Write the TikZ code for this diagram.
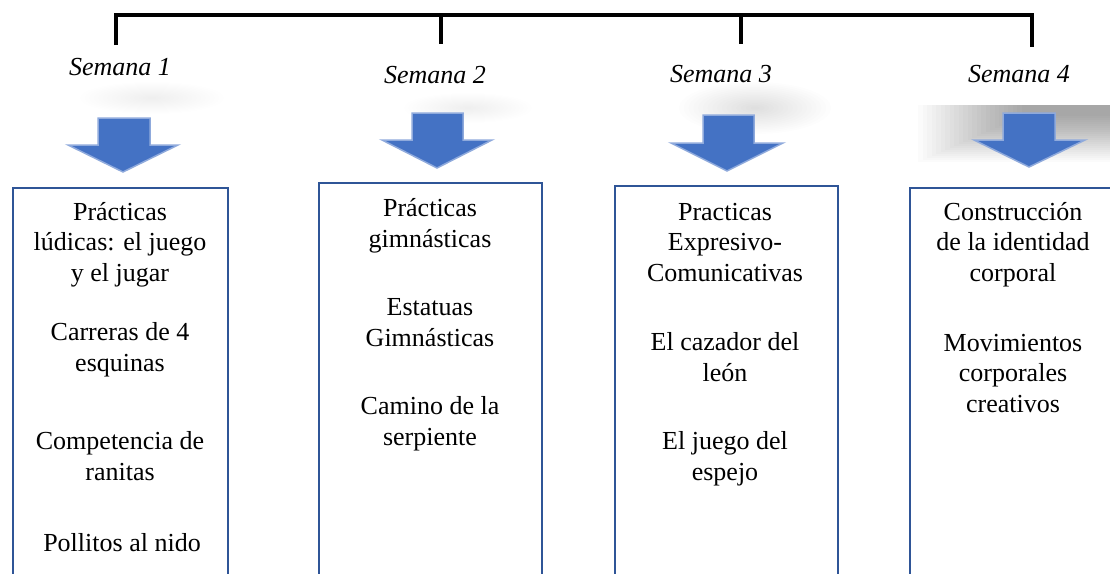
\documentclass[tikz,border=0pt]{standalone}
\usepackage{fontspec}
\setmainfont{Liberation Serif}
\definecolor{arrowfill}{HTML}{4472C4}
\definecolor{arrowline}{HTML}{8FAADC}
\definecolor{boxline}{HTML}{2F5597}
\tikzset{
  bracket/.style={line width=4pt, black, line join=miter},
  weekbox/.style={draw=boxline, line width=2pt, rectangle, anchor=north west, inner sep=0pt},
  txt/.style={font=\fontsize{26}{30.5}\selectfont, align=center, inner sep=0pt, anchor=base},
  week/.style={font=\fontsize{26}{30}\selectfont\itshape, inner sep=0pt, anchor=base},
  bigarrow/.style={fill=arrowfill, draw=arrowline, line width=1.5pt, line join=miter}
}
\newcommand{\softellipse}[5]{% cx cy rx ry opacity
  \foreach \i in {1,...,16}{
    \fill[black, opacity=#5] (#1,#2) ellipse ({#3*\i/16} and {#4*\i/16});
  }}
\newcommand{\blockdownarrow}[8]{% shaftL shaftR top headL headR headTop tipX tipY
  \draw[bigarrow] (#1,#3) -- (#2,#3) -- (#2,#6) -- (#5,#6) -- (#7,#8) -- (#4,#6) -- (#1,#6) -- cycle;}
\begin{document}
\begin{tikzpicture}[x=1pt, y=-1pt]
\useasboundingbox (0,0) rectangle (1110,573);
\clip (0,0) rectangle (1110,573);
\fill[white] (0,0) rectangle (1110,573);

% soft shadows behind the arrows
\softellipse{152}{98}{72}{16}{0.005}
\softellipse{468}{108}{64}{15}{0.005}
\softellipse{755}{108}{76}{26}{0.0075}
\foreach \i in {0,...,23}{
  \fill[black, opacity=0.015] ({918+\i*4.5},105) rectangle (1110,{162-\i*2});
}

% bracket
\coordinate (h1) at (116,15);
\coordinate (h2) at (441,15);
\coordinate (h3) at (741,15);
\coordinate (h4) at (1032,15);
\coordinate (k1) at (116,45);
\coordinate (k2) at (441,44);
\coordinate (k3) at (741,44);
\coordinate (k4) at (1032,47);
\draw[bracket] (k1) -- (h1) -- (h4) -- (k4);
\draw[bracket] (h2) -- (k2);
\draw[bracket] (h3) -- (k3);

% week labels
\node[week] (s1) at (120,75) {Semana 1};
\node[week] (s2) at (435,83) {Semana 2};
\node[week] (s3) at (721,82) {Semana 3};
\node[week] (s4) at (1019,82) {Semana 4};

% arrows
\blockdownarrow{98}{150}{118}{68}{178}{145}{123}{172}
\blockdownarrow{412}{463}{113}{382}{492}{140}{437}{168}
\blockdownarrow{703}{754}{115}{671}{783}{143}{727}{171}
\blockdownarrow{1003}{1055}{113}{974}{1085}{140}{1029}{167}

% boxes (open at the bottom edge of the picture)
\node[weekbox, minimum width=215pt, minimum height=420pt] (b1) at (12,187) {};
\node[weekbox, minimum width=223pt, minimum height=420pt] (b2) at (318,182) {};
\node[weekbox, minimum width=223pt, minimum height=420pt] (b3) at (614,185) {};
\node[weekbox, minimum width=222pt, minimum height=420pt] (b4) at (909,187) {};

% box texts (anchor = baseline of the last line)
\node[txt] (t11) at (120,281) {Prácticas\\lúdicas: el juego\\y el jugar};
\node[txt] (t12) at (120,371) {Carreras de 4\\esquinas};
\node[txt] (t13) at (120,480) {Competencia de\\ranitas};
\node[txt] (t14) at (122,551) {Pollitos al nido};

\node[txt] (t21) at (430,247) {Prácticas\\gimnásticas};
\node[txt] (t22) at (430,346) {Estatuas\\Gimnásticas};
\node[txt] (t23) at (430,445) {Camino de la\\serpiente};

\node[txt] (t31) at (725,281) {Practicas\\Expresivo-\\Comunicativas};
\node[txt] (t32) at (725,381) {El cazador del\\león};
\node[txt] (t33) at (725,480) {El juego del\\espejo};

\node[txt] (t41) at (1013,281) {Construcción\\de la identidad\\corporal};
\node[txt] (t42) at (1013,412) {Movimientos\\corporales\\creativos};
\end{tikzpicture}
\end{document}
